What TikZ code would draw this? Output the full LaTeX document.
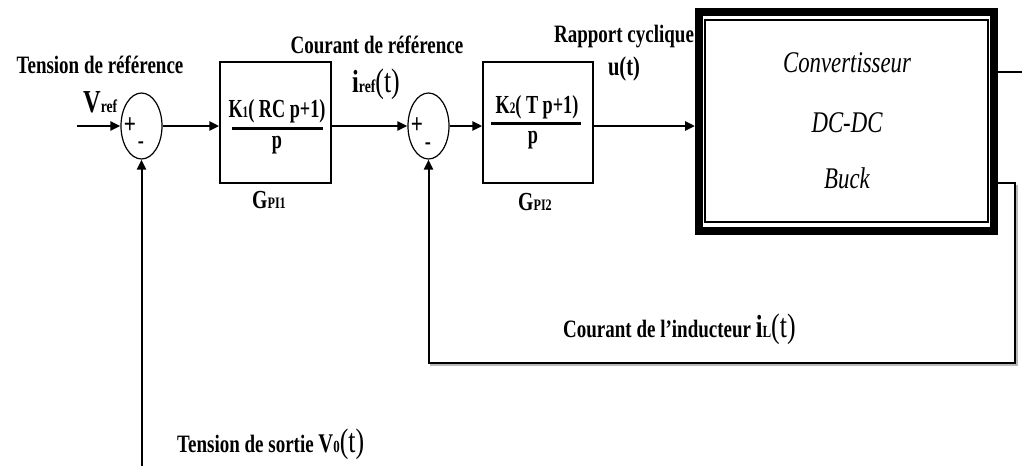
\documentclass[tikz,border=0pt]{standalone}
\usepackage{fontspec}
\setmainfont{Liberation Serif}
\newfontfamily\labfont{Liberation Serif}[FakeStretch=0.76]
\newfontfamily\fracfont{Liberation Serif}[FakeStretch=0.70]
\newfontfamily\convfont{Liberation Serif}[FakeStretch=0.76]
\usetikzlibrary{shapes.geometric,arrows.meta}
\newcommand{\myfs}[1]{\fontsize{#1}{#1}\selectfont}
\begin{document}
\begin{tikzpicture}[x=1pt,y=-1pt,
  lab/.style={font=\labfont\bfseries\myfs{25}, inner sep=0pt, anchor=base},
  frac/.style={font=\fracfont\bfseries\myfs{26}, inner sep=0pt, anchor=base},
  conv/.style={font=\convfont\itshape\myfs{30}, inner sep=0pt, anchor=base},
  blk/.style={draw, line width=1.5pt, rectangle, inner sep=0pt},
  sumnode/.style={draw, ellipse, line width=1.2pt, minimum width=41pt, minimum height=66pt, inner sep=0pt},
  sig/.style={line width=2.5pt, -{Triangle[length=10pt,width=9pt]}},
  fb/.style={line width=2pt, -{Triangle[length=10pt,width=9pt]}},
  bar/.style={line width=3pt},
  sgn/.style={font=\labfont\bfseries\myfs{28}, inner sep=0pt}
]
\useasboundingbox (0,0) rectangle (1022,466);

% summing junctions
\node[sumnode] (s1) at (141.5,126) {};
\node[sumnode] (s2) at (428.5,126) {};
\node[sgn] (p1) at (130,126) {+};
\node[sgn, font=\labfont\bfseries\myfs{24}] (m1) at (141,145) {-};
\node[sgn] (p2) at (417,126) {+};
\node[sgn, font=\labfont\bfseries\myfs{24}] (m2) at (428,146) {-};

% PI blocks
\node[blk, minimum width=111pt, minimum height=121pt] (b1) at (275.5,122.5) {};
\node[blk, minimum width=110pt, minimum height=121pt] (b2) at (538,122.5) {};
\node[frac] (n1) at (277,117) {K\myfs{16}1\myfs{26}( RC p+1)};
\draw[bar] (232,128) -- (323,128);
\node[frac] (d1) at (277,148) {p};
\node[frac] (n2) at (537,113) {K\myfs{16}2\myfs{26}( T p+1)};
\draw[bar] (491,123) -- (581,123);
\node[frac] (d2) at (533,143) {p};

% converter
\node[draw, line width=8pt, minimum width=295pt, minimum height=219pt, inner sep=0pt] (cv) at (846.5,121.5) {};
\draw[line width=1.3pt] (705,20) rectangle (988,222);
\node[conv] (c1) at (847,72) {Convertisseur};
\node[conv] (c2) at (847,132) {DC-DC};
\node[conv] (c3) at (847,188) {Buck};

% labels
\node[lab] (t1) at (100,73) {Tension de référence};
\node[lab, anchor=base west] (vref) at (83,112) {\myfs{32}V\myfs{18}ref};
\node[lab] (t2) at (377,53) {Courant de référence};
\node[lab, anchor=base west] (iref) at (352,92) {\myfs{32}i\myfs{18}ref\mdseries\myfs{34}(t)};
\node[lab] (t3) at (624,42) {Rapport cyclique};
\node[lab] (ut) at (624,75) {\myfs{27}u(t)};
\node[lab, anchor=base west] (g1) at (252,208) {\myfs{26}G\myfs{16}PI1};
\node[lab, anchor=base west] (g2) at (518,210) {\myfs{26}G\myfs{16}PI2};
\node[lab, anchor=base west] (il) at (563,337) {Courant de l’inducteur \myfs{32}i\myfs{17}L\mdseries\myfs{34}(t)};
\node[lab, anchor=base west] (vo) at (177,452) {Tension de sortie \myfs{27}V\myfs{17}0\mdseries\myfs{34}(t)};

% connectors
\coordinate (in) at (77,126);
\coordinate (out) at (1022,72);
\coordinate (f1) at (1015,183);
\coordinate (f2) at (1015,363);
\coordinate (v0) at (141.5,466);

\draw[sig] (in) -- (s1.west);
\draw[sig] (s1.east) -- (b1.west |- s1.east);
\draw[sig] (b1.east |- s2.west) -- (s2.west);
\draw[sig] (s2.east) -- (b2.west |- s2.east);
\draw[sig] (b2.east |- s2.east) -- (cv.west |- s2.east);
\draw[line width=2pt] (cv.east |- out) -- (out);
\draw[gray!55, line width=2pt, transform canvas={shift={(1.5pt,-1.5pt)}}] (f1) -- (f2) -- (f2 -| s2.south);
\draw[fb] (cv.east |- f1) -- (f1) -- (f2) -| (s2.south);
\draw[fb] (v0) -- (s1.south);
\end{tikzpicture}
\end{document}
